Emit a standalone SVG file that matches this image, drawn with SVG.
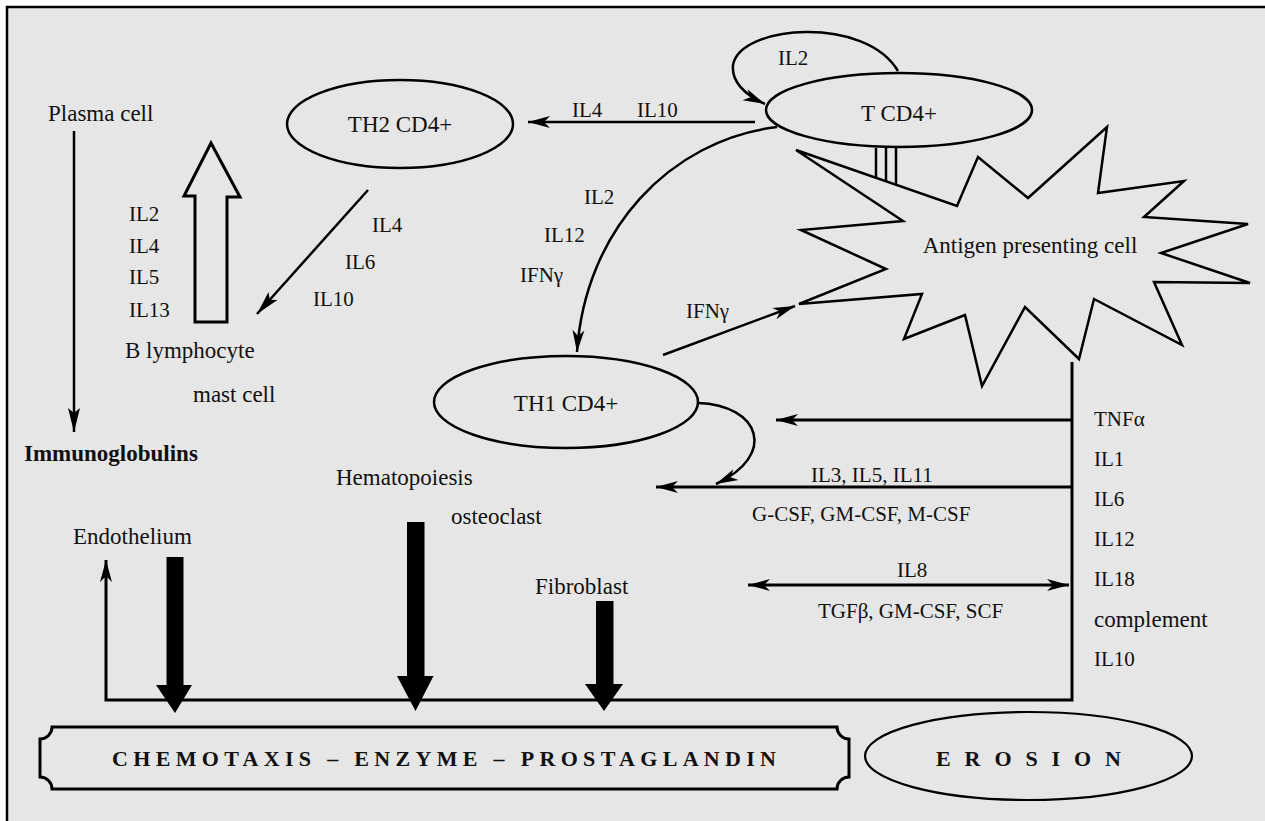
<svg xmlns="http://www.w3.org/2000/svg" width="1265" height="821" viewBox="0 0 1265 821">
<style>
text{font-family:"Liberation Serif","Times New Roman",serif;fill:#111}
.n{font-size:23px}
.l{font-size:21px}
.b{font-size:22px;font-weight:bold}
.sh{fill:none;stroke:#000;stroke-width:2.5}
.c{fill:none;stroke:#000;stroke-width:2.5}
.c3{fill:none;stroke:#000;stroke-width:3}
</style>
<defs>
<marker id="ah" markerUnits="userSpaceOnUse" markerWidth="24" markerHeight="14" refX="22" refY="7" orient="auto-start-reverse">
<path d="M0,1 L22,7 L0,13 L6,7 z" fill="#000"/>
</marker>
<marker id="ahl" markerUnits="userSpaceOnUse" markerWidth="26" markerHeight="14" refX="24" refY="7" orient="auto">
<path d="M0,1 L24,7 L0,13 L5,7 z" fill="#000"/>
</marker>
</defs>
<rect x="0" y="0" width="1265" height="821" fill="#fff"/>
<rect x="7" y="7" width="1258" height="814" fill="#e6e6e6"/>
<line x1="6" y1="7" x2="1265" y2="7" stroke="#000" stroke-width="2.5"/>
<line x1="7" y1="6" x2="7" y2="821" stroke="#000" stroke-width="2.5"/>

<g id="connectors">
<path class="c" d="M898,71 C865,15 740,25 733,65 C731,85 750,97 765,104" marker-end="url(#ah)"/>
<line class="c" x1="755" y1="122" x2="528" y2="122" marker-end="url(#ah)"/>
<path class="c" d="M777,127 C670,140 585,230 577,352" marker-end="url(#ah)"/>
<line class="c" x1="663" y1="355" x2="795" y2="306" marker-end="url(#ah)"/>
<path class="c" d="M698,403 C760,405 778,455 716,484" marker-end="url(#ah)"/>
<line class="c" x1="368" y1="190" x2="257" y2="314" marker-end="url(#ahl)"/>
<line class="c" x1="74" y1="131" x2="74" y2="432" marker-end="url(#ahl)"/>
<polygon class="c3" points="195,322 195,196 184,196 211,143 240,197 227,197 227,322"/>
<line x1="876" y1="148" x2="876" y2="178" stroke="#000" stroke-width="2.5"/>
<line x1="886" y1="148" x2="886" y2="181" stroke="#000" stroke-width="2.5"/>
<line x1="896" y1="147" x2="896" y2="185" stroke="#000" stroke-width="2.5"/>
<polyline class="c3" points="1072,362 1072,700 106,700 106,560" marker-end="url(#ah)"/>
<line class="c3" x1="1071" y1="420" x2="776" y2="420" marker-end="url(#ah)"/>
<line class="c3" x1="1071" y1="487" x2="656" y2="487" marker-end="url(#ah)"/>
<line class="c3" x1="748" y1="585" x2="1069" y2="585" marker-start="url(#ah)" marker-end="url(#ah)"/>
<polygon fill="#000" points="166.5,557 183.5,557 183.5,685 192,685 175,713 156,685 166.5,685"/>
<polygon fill="#000" points="407,522 424.5,522 424.5,676 433.5,676 415.5,711 397,676 407,676"/>
<polygon fill="#000" points="596,601 613.5,601 613.5,684 623,684 604,711 585,684 596,684"/>
</g>

<g id="tcd4">
<ellipse class="sh" cx="899" cy="110" rx="133" ry="37"/>
<text class="n" x="899" y="121" text-anchor="middle">T CD4+</text>
</g>
<g id="th2">
<ellipse class="sh" cx="400" cy="124" rx="113" ry="44"/>
<text class="n" x="400" y="132" text-anchor="middle">TH2 CD4+</text>
</g>
<g id="th1">
<ellipse class="sh" cx="566" cy="402" rx="132" ry="46"/>
<text class="n" x="566" y="411" text-anchor="middle">TH1 CD4+</text>
</g>
<g id="apc">
<polygon class="sh" points="796,150 903,221 801,230 886,269 799,304 922,294 904,339 965,315 982,386 1025,307 1079,359 1094,299 1182,345 1154,282 1250,283 1161,253 1248,224 1144,217 1184,181 1098,193 1107,127 1028,198 978,157 957,206"/>
<text class="n" x="1030" y="253" text-anchor="middle">Antigen presenting cell</text>
</g>
<g id="chemotaxis">
<path d="M52,727 L837,727 A12,12 0 0 0 849,739 L849,777 A12,12 0 0 0 837,789 L52,789 A12,12 0 0 0 40,777 L40,739 A12,12 0 0 0 52,727 Z" fill="none" stroke="#000" stroke-width="3"/>
<text class="b" x="112" y="766" textLength="664" lengthAdjust="spacing">CHEMOTAXIS – ENZYME – PROSTAGLANDIN</text>
</g>
<g id="erosion">
<ellipse cx="1028.5" cy="756" rx="163.5" ry="44" fill="none" stroke="#000" stroke-width="2.2"/>
<text class="b" x="936" y="766" textLength="185" lengthAdjust="spacing">E R O S I O N</text>
</g>

<g id="labels">
<text class="n" x="48" y="121">Plasma cell</text>
<text class="n" x="24" y="461" font-weight="bold">Immunoglobulins</text>
<text class="l" x="129" y="221">IL2</text>
<text class="l" x="129" y="253">IL4</text>
<text class="l" x="129" y="284">IL5</text>
<text class="l" x="129" y="317">IL13</text>
<text class="n" x="125" y="358">B lymphocyte</text>
<text class="n" x="193" y="402">mast cell</text>
<text class="l" x="372" y="232">IL4</text>
<text class="l" x="345" y="269">IL6</text>
<text class="l" x="313" y="306">IL10</text>
<text class="l" x="778" y="65">IL2</text>
<text class="l" x="572" y="117">IL4</text>
<text class="l" x="637" y="117">IL10</text>
<text class="l" x="584" y="204">IL2</text>
<text class="l" x="544" y="242">IL12</text>
<text class="l" x="520" y="282">IFNγ</text>
<text class="l" x="686" y="318">IFNγ</text>
<text class="l" x="811" y="482">IL3, IL5, IL11</text>
<text class="l" x="752" y="521">G-CSF, GM-CSF, M-CSF</text>
<text class="l" x="897" y="577">IL8</text>
<text class="l" x="818" y="618">TGFβ, GM-CSF, SCF</text>
<text class="l" x="1094" y="426">TNFα</text>
<text class="l" x="1094" y="466">IL1</text>
<text class="l" x="1094" y="506">IL6</text>
<text class="l" x="1094" y="546">IL12</text>
<text class="l" x="1094" y="586">IL18</text>
<text class="n" x="1094" y="627">complement</text>
<text class="l" x="1094" y="666">IL10</text>
<text class="n" x="336" y="485">Hematopoiesis</text>
<text class="n" x="451" y="524">osteoclast</text>
<text class="n" x="535" y="594">Fibroblast</text>
<text class="n" x="73" y="544">Endothelium</text>
</g>
</svg>
